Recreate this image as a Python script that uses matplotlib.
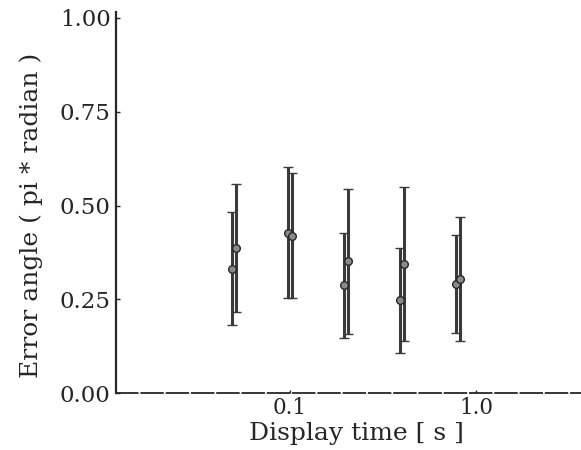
import matplotlib
matplotlib.use("Agg")
import matplotlib.pyplot as plt
import numpy as np

# Data
display_time = [0.05, 0.1, 0.2, 0.4, 0.8]
series_a_mean = [0.332, 0.428, 0.287, 0.247, 0.291]
series_a_sd = [0.151, 0.175, 0.140, 0.140, 0.131]
series_b_mean = [0.387, 0.420, 0.351, 0.344, 0.304]
series_b_sd = [0.171, 0.167, 0.193, 0.205, 0.165]
y_ticks = [0.0, 0.25, 0.5, 0.75, 1.0]
y_tick_labels = ["0.00", "0.25", "0.50", "0.75", "1.00"]
x_ticks = [0.1, 1.0]
x_tick_labels = ["0.1", "1.0"]

plt.rcParams['font.family'] = ['DejaVu Serif']
ink = "#262626"

fig = plt.figure(figsize=(5.81, 4.5), dpi=100)
ax = fig.add_axes([116/581, 1-393/450, 1-116/581, (393-12)/450])

x = np.array(display_time)
for xs, m, s, off in [(x, series_a_mean, series_a_sd, 0.972),
                      (x, series_b_mean, series_b_sd, 1.028)]:
    ax.errorbar(xs*off, m, yerr=s, fmt='o', color=ink, ecolor="#3a3a3a",
                elinewidth=2.2, capsize=3.5, capthick=1.6,
                markersize=5.5, markerfacecolor="#8a8a8a", markeredgecolor=ink,
                markeredgewidth=1.0)

ax.set_xscale('log')
ax.set_xlim(0.0116, 3.67)
ax.set_ylim(0, 1.016)

ax.set_yticks(y_ticks)
ax.set_yticklabels(y_tick_labels, fontsize=16.5, color=ink)
ax.set_xticks(x_ticks)
ax.set_xticklabels(x_tick_labels, fontsize=15.5, color=ink)
ax.xaxis.set_minor_locator(matplotlib.ticker.NullLocator())
ax.tick_params(axis='y', direction='in', length=3, width=1, pad=4, colors=ink)
ax.tick_params(axis='x', direction='in', length=2, width=1, pad=3, colors=ink)

for side in ['top', 'right']:
    ax.spines[side].set_visible(False)
ax.spines['left'].set_linewidth(1.6)
ax.spines['left'].set_color(ink)
ax.spines['bottom'].set_linewidth(1.3)
ax.spines['bottom'].set_color(ink)
ax.spines['bottom'].set_linestyle((0, (12, 2)))

ax.set_ylabel("Error angle ( pi * radian )", fontsize=18, color=ink)
ax.yaxis.set_label_coords(-0.157, 0.467)
ax.set_xlabel("Display time [ s ]", fontsize=18, color=ink)
ax.xaxis.set_label_coords(0.516, -0.076)

fig.savefig("out.png", dpi=100)
